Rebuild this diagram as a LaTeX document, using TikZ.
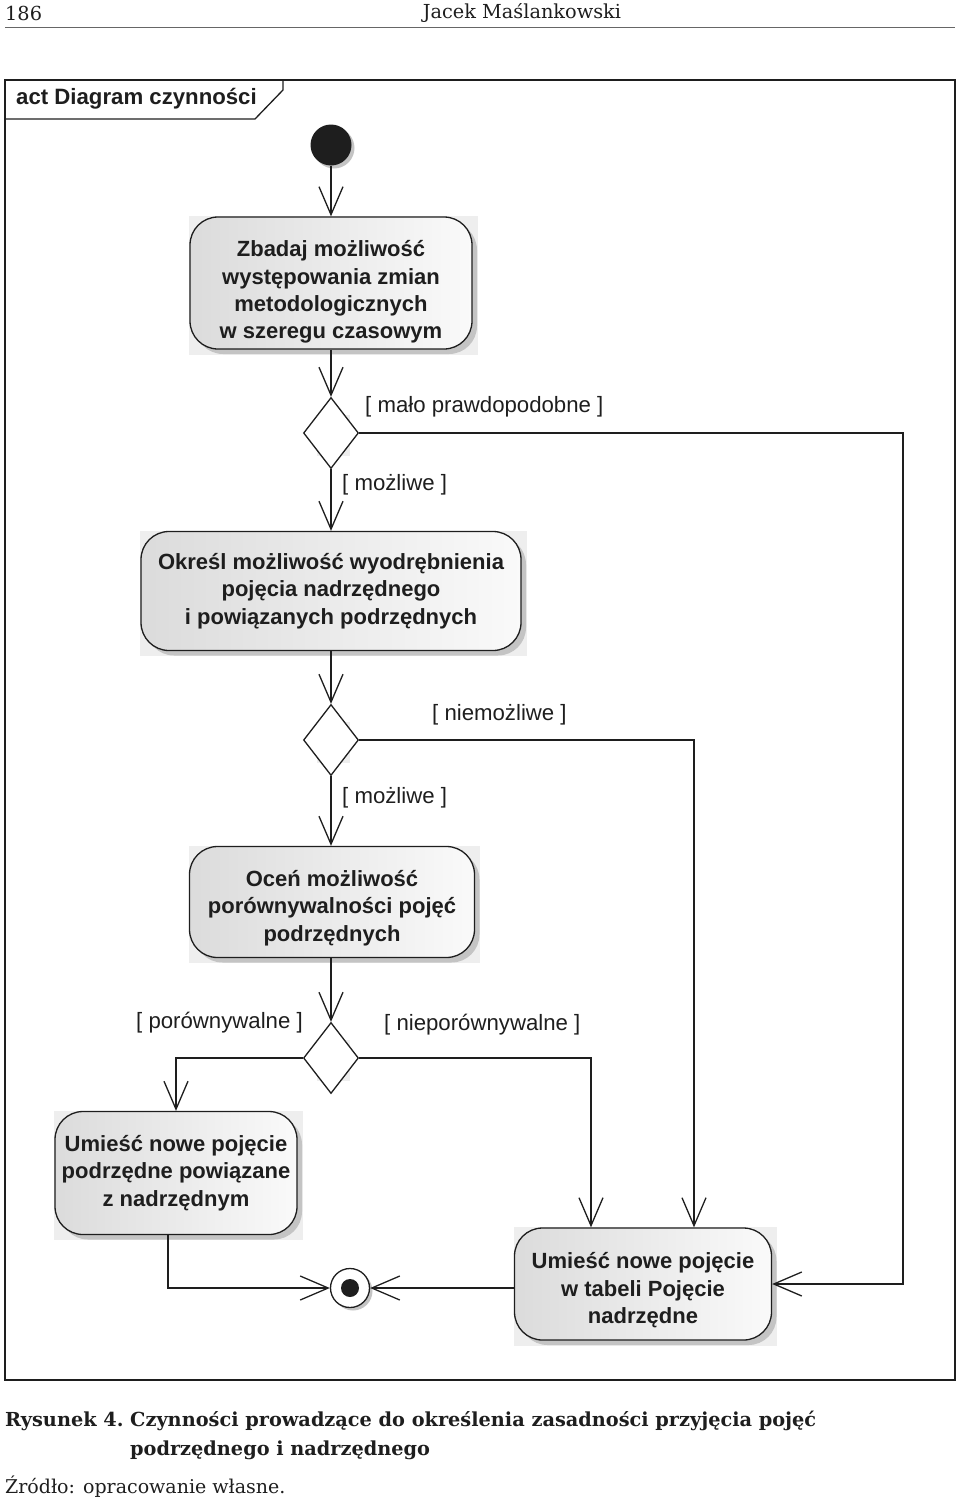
\documentclass[tikz,border=0pt]{standalone}
\usepackage{fontspec}
\setmainfont{DejaVu Serif}
\newfontfamily\arialf{Liberation Sans}
\usetikzlibrary{arrows.meta,shapes.geometric,shadows,backgrounds}
\definecolor{ink}{HTML}{1E1E1E}
\definecolor{backdrop}{HTML}{EEEEEE}
\definecolor{shade}{HTML}{C4C4C4}
\tikzset{
  actbox/.style={rectangle, rounded corners=28pt, draw=ink, line width=1.3pt,
    left color=black!14, right color=black!2, align=center,
    font=\arialf\bfseries\fontsize{22}{27.3}\selectfont, text=ink, inner sep=0pt,
    drop shadow={shadow xshift=5pt, shadow yshift=-5pt, fill=shade, opacity=1}},
  decision/.style={diamond, draw=ink, line width=1.3pt, fill=white,
    minimum width=55pt, minimum height=71pt, inner sep=0pt},
  flow/.style={draw=ink, line width=1.3pt,
    -{Straight Barb[length=28pt,width=24pt,line width=1.3pt]}},
  guard/.style={font=\arialf\fontsize{22.2}{26}\selectfont, text=ink, inner sep=0pt},
  capt/.style={font=\bfseries\fontsize{19.3}{23}\selectfont, text=ink, inner sep=0pt, anchor=west},
}
\begin{document}
\begin{tikzpicture}[x=1pt,y=-1pt]
\useasboundingbox (0,0) rectangle (960,1499);
% page header
\node[font=\fontsize{19.3}{23}\selectfont, text=ink, anchor=west, inner sep=0pt] (pageno) at (5,13) {186};
\node[font=\fontsize{19.3}{23}\selectfont, text=ink, inner sep=0pt] (author) at (522,13) {Jacek Maślankowski};
\draw[black!60, line width=1pt] (5,27) -- (955,27);
% frame
\draw[ink, line width=1.5pt] (5,80) rectangle (955,1380);
\draw[ink, line width=1.3pt] (5,119) -- (255,119) -- (283,90) -- (283,80);
\node[font=\arialf\bfseries\fontsize{22.2}{26}\selectfont, text=ink, anchor=west, inner sep=0pt] (title) at (16,99) {act Diagram czynności};
% nodes
\node[circle, fill=ink, minimum size=41pt, inner sep=0pt,
  drop shadow={shadow xshift=3pt, shadow yshift=-3pt, fill=shade, opacity=1}] (start) at (331,145) {};
\node[actbox, minimum width=282pt, minimum height=132pt] (b1) at (331,283)
  {\rule{0pt}{34pt}Zbadaj możliwość\\występowania zmian\\metodologicznych\\w szeregu czasowym};
\node[decision] (d1) at (331,433) {};
\node[actbox, minimum width=380pt, minimum height=119pt] (b2) at (331,591)
  {Określ możliwość wyodrębnienia\\pojęcia nadrzędnego\\i powiązanych podrzędnych};
\node[decision] (d2) at (331,740) {};
\node[actbox, minimum width=285pt, minimum height=111pt] (b3) at (332,902)
  {\rule{0pt}{28.5pt}Oceń możliwość\\porównywalności pojęć\\podrzędnych};
\node[decision] (d3) at (331,1058) {};
\node[actbox, minimum width=242pt, minimum height=123pt] (b4) at (176,1173)
  {Umieść nowe pojęcie\\podrzędne powiązane\\z nadrzędnym};
\node[actbox, minimum width=257pt, minimum height=112pt] (b5) at (643,1284)
  {\rule{0pt}{28.5pt}Umieść nowe pojęcie\\w tabeli Pojęcie\\nadrzędne};
\node[circle, draw=ink, line width=1.3pt, fill=white, minimum size=39pt, inner sep=0pt,
  drop shadow={shadow xshift=3pt, shadow yshift=-3pt, fill=shade, opacity=1}] (end) at (350,1288) {};
\fill[ink] (end.center) circle (9pt);
% light backdrops
\begin{scope}[on background layer]
  \foreach \n in {b1,b2,b3,b4,b5,d1,d2,d3}{
    \fill[backdrop] (\n.north west) rectangle ([xshift=5pt,yshift=-5pt]\n.south east);
  }
\end{scope}
% corner coordinates
\coordinate (c1) at (903,433);
% connectors
\draw[flow] (start) -- (b1);
\draw[flow] (b1) -- (d1);
\draw[flow] (d1.south) -- (d1.south |- b2.north);
\draw[flow] (b2.south -| d2.north) -- (d2.north);
\draw[flow] (d2.south) -- (d2.south |- b3.north);
\draw[flow] (b3.south -| d3.north) -- (d3.north);
\draw[flow] (d1.east) -- (c1) |- (b5.east);
\draw[flow] (d2.east) -| ([xshift=51pt]b5.north);
\draw[flow] (d3.east) -| ([xshift=-52pt]b5.north);
\draw[flow] (d3.west) -| (b4.north);
\draw[flow] ([xshift=-8pt]b4.south) |- (end.west);
\draw[flow] (b5.west |- end.east) -- (end.east);
% guards
\node[guard, anchor=west] (g1) at (365,407) {[ mało prawdopodobne ]};
\node[guard, anchor=west] (g2) at (342,485) {[ możliwe ]};
\node[guard, anchor=west] (g3) at (432,715) {[ niemożliwe ]};
\node[guard, anchor=west] (g4) at (342,798) {[ możliwe ]};
\node[guard, anchor=east] (g5) at (303,1023) {[ porównywalne ]};
\node[guard, anchor=west] (g6) at (384,1025) {[ nieporównywalne ]};
% caption
\node[capt] (cap1) at (5,1421) {Rysunek 4.};
\node[capt] (cap2) at (130,1421) {Czynności prowadzące do określenia zasadności przyjęcia pojęć};
\node[capt] (cap3) at (130,1450) {podrzędnego i nadrzędnego};
\node[font=\fontsize{19}{22}\selectfont, text=ink, anchor=west, inner sep=0pt] (src) at (5,1487) {Źródło: opracowanie własne.};
\end{tikzpicture}
\end{document}
